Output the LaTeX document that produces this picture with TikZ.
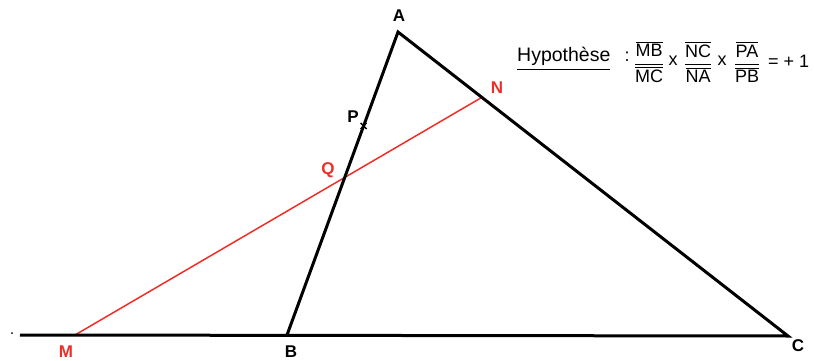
\documentclass[tikz,border=0pt]{standalone}
\usepackage{amsmath}
\usepackage{fontspec}
\setmainfont{Liberation Sans}
\usepackage{tikz}
\usetikzlibrary{calc,positioning}
\definecolor{ptred}{rgb}{0.93,0.18,0.16}

\newcommand{\vfrac}[2]{$\dfrac{\overline{\text{#1}}}{\overline{\text{#2}}}$}

\begin{document}
\begin{tikzpicture}[x=1pt,y=-1pt,
                lbl/.style={font=\fontsize{17}{17}\selectfont\bfseries, inner sep=0pt},
                rlbl/.style={lbl, text=ptred},
                hyptxt/.style={font=\fontsize{18}{18}\selectfont, inner sep=0pt}]
                \useasboundingbox (0,0) rectangle (814,361);
                \coordinate (A) at (398,32);
                \coordinate (B) at (287,335);
                \coordinate (C) at (788,336);
                \coordinate (L) at (20,335);
                \coordinate (M) at (75,335);
                \coordinate (N) at ($(A)!0.215!(C)$);
                \coordinate (P) at ($(A)!0.31!(B)$);
                \coordinate (Q) at (intersection of M--N and A--B);
                %Red transversal
                \draw[ptred, line width=1.5pt] (M) -- (N);
                %Draw edges
                \draw[line width=3pt, line join=miter] (L) -- (C) -- (A) -- (B);
                \fill (12,333) circle (1pt);
                %Mark P
                \draw[line width=1.3pt] ($(P)+(-3,-3)$) -- ($(P)+(3,3)$);
                \draw[line width=1.3pt] ($(P)+(-3,3)$) -- ($(P)+(3,-3)$);
                %Draw labels
                \node[lbl] (lA) at (399,16) {A};
                \node[lbl] (lB) at (291,352) {B};
                \node[lbl] (lC) at (798,346) {C};
                \node[lbl] (lP) at (353,117) {P};
                \node[rlbl] (lN) at (497,88) {N};
                \node[rlbl] (lQ) at (328,170) {Q};
                \node[rlbl] (lM) at (66,352) {M};
                %Hypothesis
                \node[hyptxt, font=\fontsize{19.5}{19.5}\selectfont, anchor=base west] (hyp) at (517,62) {\underline{Hypothèse}};
                \node[hyptxt, anchor=base] (col) at (627,62) {:};
                \node[hyptxt] (f1) at (649,62) {\vfrac{MB}{MC}};
                \node[hyptxt, anchor=base] (x1) at (673,66) {x};
                \node[hyptxt] (f2) at (698,62) {\vfrac{NC}{NA}};
                \node[hyptxt, anchor=base] (x2) at (722,66) {x};
                \node[hyptxt] (f3) at (747,62) {\vfrac{PA}{PB}};
                \node[hyptxt, anchor=base west] (res) at (768,68) {= + 1};
            \end{tikzpicture}
\end{document}
